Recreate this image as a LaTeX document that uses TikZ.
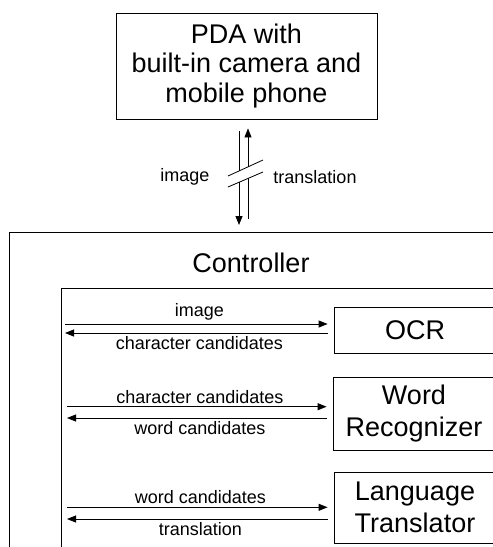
\documentclass[tikz,border=0pt]{standalone}
\usepackage{fontspec}
\setmainfont{Liberation Sans}
\usetikzlibrary{arrows.meta,positioning}

\begin{document}
\begin{tikzpicture}[
    x=1pt, y=-1pt,
    >={Triangle[length=9pt,width=7pt]},
    box/.style={rectangle, draw, line width=0.8pt, inner sep=0pt, align=center, font=\fontsize{27}{32}\selectfont},
    framebox/.style={rectangle, draw, line width=0.8pt, inner sep=0pt, anchor=north west},
    lbl/.style={font=\fontsize{18}{20}\selectfont, inner sep=3pt},
    flow/.style={->, line width=0.8pt}
]
    \useasboundingbox (0,0) rectangle (493,547);
    \clip (0,0) rectangle (493,547);

    % Device
    \node[box, minimum width=261pt, minimum height=106pt, font=\fontsize{27}{29.5}\selectfont] (pda) at (246.5,66) {PDA with\\built-in camera and\\mobile phone};

    % Controller frames
    \node[framebox, minimum width=520pt, minimum height=360pt] (ctrl) at (9,232) {};
    \node[font=\fontsize{27}{32}\selectfont, inner sep=0pt] (ctrltitle) at (251,263) {Controller};
    \node[framebox, minimum width=480pt, minimum height=300pt] (inner) at (61,288) {};

    % Wireless link
    \coordinate (dn-a) at (239,171);
    \coordinate (dn-b) at (239,182);
    \coordinate (up-a) at (248,167);
    \coordinate (up-b) at (248,178);
    \draw[line width=0.8pt, shorten <=12pt] (pda.south -| dn-a) -- (dn-a);
    \draw[flow, shorten >=7pt] (dn-b) -- (ctrl.north -| dn-b);
    \draw[line width=0.8pt, shorten <=13pt] (ctrl.north -| up-b) -- (up-b);
    \draw[flow, shorten >=9pt] (up-a) -- (pda.south -| up-a);
    \draw[line width=0.8pt] (228,176) -- (263,160);
    \draw[line width=0.8pt] (228,187) -- (263,172);
    \node[lbl] (linkimg) at (185,177) {image};
    \node[lbl] (linktr) at (315,177) {translation};

    % Modules
    \node[box, minimum width=162pt, minimum height=46pt] (ocr) at (415,330) {OCR};
    \node[box, minimum width=162pt, minimum height=73pt] (word) at (414,413.5) {Word\\Recognizer};
    \node[box, minimum width=162pt, minimum height=71pt] (lang) at (415,507.5) {Language\\Translator};

    \coordinate (ocr-in) at (65,324);
    \coordinate (ocr-out) at (65,333);
    \draw[flow, shorten >=6pt] (ocr-in) -- node[lbl, above] {image} (ocr-in -| ocr.west);
    \draw[flow, shorten <=6pt] (ocr-out -| ocr.west) -- node[lbl, below] {character candidates} (ocr-out);

    \coordinate (word-in) at (67,406.7);
    \coordinate (word-out) at (67,418);
    \draw[flow, shorten >=6pt] (word-in) -- node[lbl, above] {character candidates} (word-in -| word.west);
    \draw[flow, shorten <=6pt] (word-out -| word.west) -- node[lbl, below] {word candidates} (word-out);

    \coordinate (lang-in) at (67,507.3);
    \coordinate (lang-out) at (67,519);
    \draw[flow, shorten >=6pt] (lang-in) -- node[lbl, above] {word candidates} (lang-in -| lang.west);
    \draw[flow, shorten <=6pt] (lang-out -| lang.west) -- node[lbl, below] {translation} (lang-out);
\end{tikzpicture}
\end{document}
